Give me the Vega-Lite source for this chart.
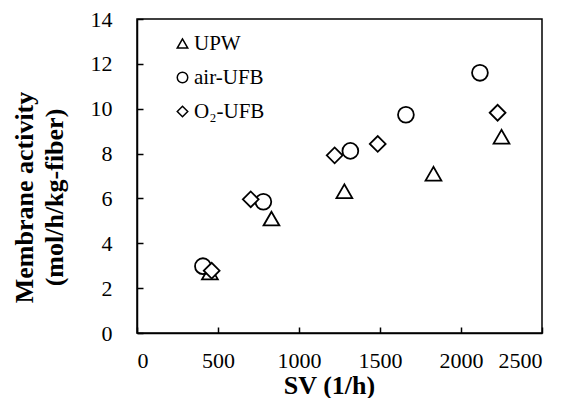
{
  "$schema": "https://vega.github.io/schema/vega-lite/v6.json",
  "width": 405,
  "height": 314,
  "autosize": {"type": "none"},
  "padding": {"left": 137, "top": 19, "right": 24, "bottom": 65},
  "background": "white",
  "config": {
    "font": "Liberation Serif",
    "view": {"stroke": "black", "strokeWidth": 1.5},
    "axis": {
      "grid": false,
      "domainColor": "black",
      "domainWidth": 1.5,
      "tickColor": "black",
      "tickWidth": 1.5,
      "tickSize": -6,
      "labelFont": "Liberation Serif",
      "labelFontSize": 22,
      "labelColor": "black",
      "format": "d",
      "titleFont": "Liberation Serif",
      "titleFontSize": 26,
      "titleFontWeight": "bold",
      "titleColor": "black"
    }
  },
  "data": {
    "values": [
      {"series": "UPW", "sv": 450, "activity": 2.7},
      {"series": "UPW", "sv": 830, "activity": 5.1},
      {"series": "UPW", "sv": 1280, "activity": 6.32},
      {"series": "UPW", "sv": 1830, "activity": 7.1},
      {"series": "UPW", "sv": 2250, "activity": 8.75},
      {"series": "air-UFB", "sv": 407, "activity": 2.98},
      {"series": "air-UFB", "sv": 780, "activity": 5.85},
      {"series": "air-UFB", "sv": 1317, "activity": 8.12},
      {"series": "air-UFB", "sv": 1660, "activity": 9.73},
      {"series": "air-UFB", "sv": 2117, "activity": 11.6},
      {"series": "O₂-UFB", "sv": 461, "activity": 2.78},
      {"series": "O₂-UFB", "sv": 702, "activity": 5.96},
      {"series": "O₂-UFB", "sv": 1220, "activity": 7.92},
      {"series": "O₂-UFB", "sv": 1486, "activity": 8.43},
      {"series": "O₂-UFB", "sv": 2226, "activity": 9.82}
    ]
  },
  "mark": {"type": "point", "filled": false, "fill": "white", "stroke": "black", "strokeWidth": 1.8, "size": 250, "opacity": 1, "fillOpacity": 1},
  "encoding": {
    "x": {
      "field": "sv", "type": "quantitative",
      "scale": {"domain": [0, 2500], "nice": false},
      "axis": {"values": [0, 500, 1000, 1500, 2000, 2500], "title": "SV (1/h)", "labelPadding": 23, "titlePadding": 1, "titleX": 192}
    },
    "y": {
      "field": "activity", "type": "quantitative",
      "scale": {"domain": [0, 14], "nice": false},
      "axis": {"values": [0, 2, 4, 6, 8, 10, 12, 14], "title": ["Membrane activity", "(mol/h/kg-fiber)"], "titleLineHeight": 30, "labelPadding": 31, "titlePadding": 23, "titleY": 178}
    },
    "shape": {
      "field": "series", "type": "nominal",
      "scale": {"domain": ["UPW", "air-UFB", "O₂-UFB"], "range": ["triangle-up", "circle", "diamond"]},
      "legend": {
        "title": null,
        "orient": "none",
        "legendX": 35,
        "legendY": 14,
        "labelFont": "Liberation Serif",
        "labelFontSize": 21,
        "labelColor": "black",
        "symbolSize": 110,
        "rowPadding": 12,
        "labelOffset": 1,
        "encode": {
          "symbols": {
            "update": {
              "stroke": {"value": "black"},
              "strokeWidth": {"value": 2},
              "fill": {"value": "white"},
              "opacity": {"value": 1},
              "strokeOpacity": {"value": 1}
            }
          }
        }
      }
    }
  }
}
